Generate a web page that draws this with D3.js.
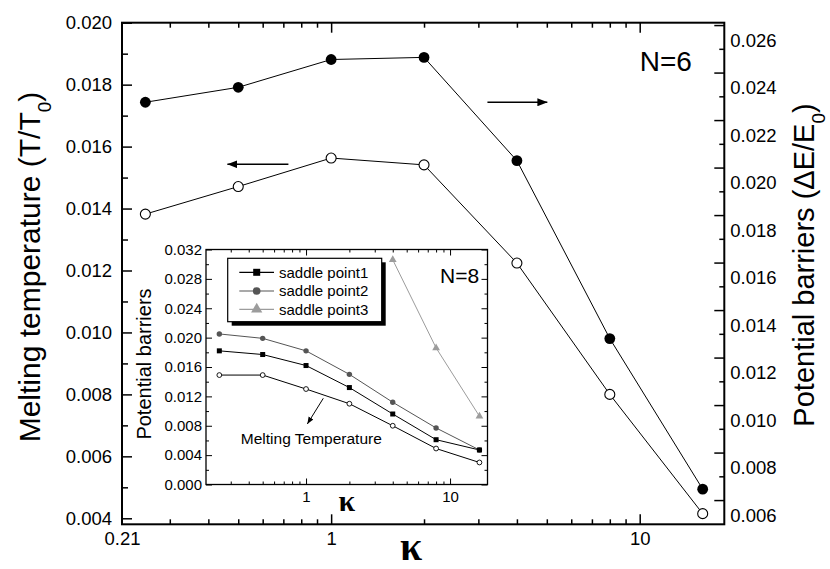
<!DOCTYPE html>
<html><head><meta charset="utf-8">
<script src="https://cdn.jsdelivr.net/npm/d3@7"></script>
<style>
body{margin:0;background:#fff}
text{font-family:"Liberation Sans",Arial,sans-serif;fill:#000}
</style>
</head><body><svg id="c" width="830" height="569"></svg>
<script>
// ---- main chart data (N=6) ----
const kappa = [0.25, 0.5, 1, 2, 4, 8, 16];
const meltingT = [0.01382, 0.01471, 0.01563, 0.01541, 0.01224, 0.0080, 0.00415];      // left axis, open circles
const barriers = [0.02275, 0.02338, 0.02455, 0.02464, 0.02029, 0.0128, 0.00646];      // right axis, filled circles
const leftTicks = [0.004, 0.006, 0.008, 0.010, 0.012, 0.014, 0.016, 0.018, 0.020];
const rightTicks = [0.006, 0.008, 0.010, 0.012, 0.014, 0.016, 0.018, 0.020, 0.022, 0.024, 0.026];
const xTickLabels = [0.21, 1, 10];

// ---- inset data (N=8) ----
const insetKappa = [0.25, 0.5, 1, 2, 4, 8, 16];
const insetMelting = [0.0149, 0.0149, 0.0130, 0.0110, 0.0080, 0.0049, 0.0030];
const saddle1 = [0.0182, 0.0177, 0.0162, 0.0132, 0.0096, 0.0061, 0.0047];
const saddle2 = [0.0205, 0.0199, 0.0182, 0.0150, 0.0112, 0.0077, 0.0047];
const saddle3Kappa = [4, 8, 16];
const saddle3 = [0.0306, 0.0186, 0.0093];
const insetYTicks = [0, 0.004, 0.008, 0.012, 0.016, 0.020, 0.024, 0.028, 0.032];
const insetXTicks = [1, 10];
const legendNames = ["saddle point1", "saddle point2", "saddle point3"];

const svg = d3.select("#c");
const defs = svg.append("defs");
defs.append("marker").attr("id","ah").attr("viewBox","0 0 10 8").attr("refX",10).attr("refY",4)
  .attr("markerWidth",10).attr("markerHeight",8).attr("markerUnits","userSpaceOnUse").attr("orient","auto")
  .append("path").attr("d","M0,0 L10,4 L0,8 Z").attr("fill","#000");
defs.append("marker").attr("id","ahs").attr("viewBox","0 0 10 8").attr("refX",10).attr("refY",4)
  .attr("markerWidth",7).attr("markerHeight",6).attr("markerUnits","userSpaceOnUse").attr("orient","auto")
  .append("path").attr("d","M0,0 L10,4 L0,8 Z").attr("fill","#000");

const F = {l:122, r:724.3, t:22.7, b:524.3};
const x = d3.scaleLog().domain([0.21, 18.8]).range([F.l, F.r]);
const yL = d3.scaleLinear().domain([0.003806, 0.020]).range([F.b, F.t]);
const yR = d3.scaleLinear().domain([0.00498, 0.02610]).range([F.b, F.t]);

function clean(g){ g.select(".domain").remove(); g.selectAll(".tick line").attr("stroke","#000").attr("stroke-width",1.5); return g; }

const xMajor = [1, 10];
const xMinor = x.ticks().filter(v => !xMajor.includes(v));
const leftMinor = d3.range(0.005, 0.0200, 0.002);
const rightMinor = d3.range(0.007, 0.0260, 0.002);

// bottom & top ticks
[[d3.axisBottom, F.b],[d3.axisTop, F.t]].forEach(([ax, y0])=>{
  svg.append("g").attr("transform",`translate(0,${y0})`).call(ax(x).tickValues(xMinor).tickSize(-5).tickFormat("")).call(clean);
  svg.append("g").attr("transform",`translate(0,${y0})`).call(ax(x).tickValues(xMajor).tickSize(-10).tickFormat("")).call(clean);
});
// left ticks
svg.append("g").attr("transform",`translate(${F.l},0)`).call(d3.axisLeft(yL).tickValues(leftMinor).tickSize(-6).tickFormat("")).call(clean);
svg.append("g").attr("transform",`translate(${F.l},0)`).call(d3.axisLeft(yL).tickValues(leftTicks).tickSize(-10).tickFormat("")).call(clean);
// right ticks
svg.append("g").attr("transform",`translate(${F.r},0)`).call(d3.axisRight(yR).tickValues(rightMinor).tickSize(-5).tickFormat("")).call(clean);
svg.append("g").attr("transform",`translate(${F.r},0)`).call(d3.axisRight(yR).tickValues(rightTicks).tickSize(-10).tickFormat("")).call(clean);

// labels
const lab = svg.append("g");
lab.append("g").attr("transform",`translate(0,${F.b})`)
  .call(d3.axisBottom(x).tickValues(xTickLabels).tickSize(0).tickPadding(8).tickFormat(d => d===0.21 ? "0.21" : d3.format("d")(d)))
  .call(g=>g.select(".domain").remove()).selectAll("text").attr("font-size","18.5px").attr("font-family","Liberation Sans, Arial");
lab.append("g").attr("transform",`translate(${F.l},0)`)
  .call(d3.axisLeft(yL).tickValues(leftTicks).tickSize(0).tickPadding(10).tickFormat(d3.format(".3f")))
  .call(g=>g.select(".domain").remove()).selectAll("text").attr("font-size","18.5px").attr("font-family","Liberation Sans, Arial");
lab.append("g").attr("transform",`translate(${F.r},0)`)
  .call(d3.axisRight(yR).tickValues(rightTicks).tickSize(0).tickPadding(6).tickFormat(d3.format(".3f")))
  .call(g=>g.select(".domain").remove()).selectAll("text").attr("font-size","18.5px").attr("font-family","Liberation Sans, Arial")
  .attr("transform","translate(0,15.5)");

// frame
svg.append("rect").attr("x",F.l).attr("y",F.t).attr("width",F.r-F.l).attr("height",F.b-F.t)
  .attr("fill","none").attr("stroke","#000").attr("stroke-width",2);

// titles
svg.append("text").attr("transform",`translate(40,267) rotate(-90)`).attr("text-anchor","middle")
  .attr("font-size","30px").html('Melting temperature (T/T<tspan baseline-shift="sub" font-size="19px">0</tspan>)');
svg.append("text").attr("transform",`translate(814,265) rotate(-90)`).attr("text-anchor","middle")
  .attr("font-size","29px").html('Potential barriers (\u0394E/E<tspan baseline-shift="sub" font-size="19px">0</tspan>)');
svg.append("text").attr("x",x(1.815)).attr("y",560).attr("text-anchor","middle")
  .attr("font-size","40px").attr("font-weight","bold").style("font-family","'Liberation Serif','Times New Roman',serif").text("\u03ba");

// main series
const lineL = d3.line().x((d,i)=>x(kappa[i])).y(d=>yL(d));
const lineR = d3.line().x((d,i)=>x(kappa[i])).y(d=>yR(d));
svg.append("path").attr("d",lineL(meltingT)).attr("fill","none").attr("stroke","#000").attr("stroke-width",1);
svg.append("path").attr("d",lineR(barriers)).attr("fill","none").attr("stroke","#000").attr("stroke-width",1);
svg.append("g").selectAll("circle").data(barriers).join("circle")
  .attr("cx",(d,i)=>x(kappa[i])).attr("cy",d=>yR(d)).attr("r",5.4).attr("fill","#000");
svg.append("g").selectAll("circle").data(meltingT).join("circle")
  .attr("cx",(d,i)=>x(kappa[i])).attr("cy",d=>yL(d)).attr("r",5).attr("fill","#fff").attr("stroke","#000").attr("stroke-width",1.1);

// main annotations
svg.append("line").attr("x1",x(0.727)).attr("x2",x(0.461)).attr("y1",yL(0.01543)).attr("y2",yL(0.01543))
  .attr("stroke","#000").attr("stroke-width",1.5).attr("marker-end","url(#ah)");
svg.append("line").attr("x1",x(3.21)).attr("x2",x(5.02)).attr("y1",yR(0.02275)).attr("y2",yR(0.02275))
  .attr("stroke","#000").attr("stroke-width",1.5).attr("marker-end","url(#ah)");
svg.append("text").attr("x",x(12.15)).attr("y",yL(0.01876)+10).attr("text-anchor","middle").attr("font-size","28px").text("N=6");

// ---- inset ----
const I = {l:206, r:487.5, t:249.5, b:484.5};
const ix = d3.scaleLog().domain([0.202, 18.2]).range([I.l, I.r]);
const iy = d3.scaleLinear().domain([0, 0.032]).range([I.b, I.t]);
const ins = svg.append("g");
ins.append("rect").attr("x",I.l).attr("y",I.t).attr("width",I.r-I.l).attr("height",I.b-I.t).attr("fill","#fff");
function cleanI(g){ g.select(".domain").remove(); g.selectAll(".tick line").attr("stroke","#000").attr("stroke-width",1); return g; }
const ixMinor = ix.ticks().filter(v => !insetXTicks.includes(v));
const iyMinor = d3.range(0.002, 0.032, 0.004);
[[d3.axisBottom, I.b],[d3.axisTop, I.t]].forEach(([ax,y0])=>{
  ins.append("g").attr("transform",`translate(0,${y0})`).call(ax(ix).tickValues(ixMinor).tickSize(-3).tickFormat("")).call(cleanI);
  ins.append("g").attr("transform",`translate(0,${y0})`).call(ax(ix).tickValues(insetXTicks).tickSize(-6).tickFormat("")).call(cleanI);
});
[[d3.axisLeft, I.l],[d3.axisRight, I.r]].forEach(([ax,x0])=>{
  ins.append("g").attr("transform",`translate(${x0},0)`).call(ax(iy).tickValues(iyMinor).tickSize(-3).tickFormat("")).call(cleanI);
  ins.append("g").attr("transform",`translate(${x0},0)`).call(ax(iy).tickValues(insetYTicks).tickSize(-6).tickFormat("")).call(cleanI);
});
ins.append("g").attr("transform",`translate(${I.l},0)`)
  .call(d3.axisLeft(iy).tickValues(insetYTicks).tickSize(0).tickPadding(4).tickFormat(d3.format(".3f")))
  .call(g=>g.select(".domain").remove()).selectAll("text").attr("font-size","15px").attr("font-family","Liberation Sans, Arial");
ins.append("g").attr("transform",`translate(0,${I.b})`)
  .call(d3.axisBottom(ix).tickValues(insetXTicks).tickSize(0).tickPadding(7).tickFormat(d3.format("d")))
  .call(g=>g.select(".domain").remove()).selectAll("text").attr("font-size","15px").attr("font-family","Liberation Sans, Arial");
ins.append("rect").attr("x",I.l).attr("y",I.t).attr("width",I.r-I.l).attr("height",I.b-I.t)
  .attr("fill","none").attr("stroke","#000").attr("stroke-width",1.3);
ins.append("text").attr("transform",`translate(151,${(I.t+I.b)/2-3}) rotate(-90)`).attr("text-anchor","middle")
  .attr("font-size","20px").text("Potential barriers");
ins.append("text").attr("x",ix(1.92)).attr("y",511).attr("text-anchor","middle")
  .attr("font-size","30px").attr("font-weight","bold").style("font-family","'Liberation Serif','Times New Roman',serif").text("\u03ba");

const il = (xs) => d3.line().x((d,i)=>ix(xs[i])).y(d=>iy(d));
const col1 = "#000", col2 = "#555", col3 = "#9c9c9c";
ins.append("path").attr("d",il(saddle3Kappa)(saddle3)).attr("fill","none").attr("stroke",col3).attr("stroke-width",1);
ins.append("path").attr("d",il(insetKappa)(saddle2)).attr("fill","none").attr("stroke",col2).attr("stroke-width",1);
ins.append("path").attr("d",il(insetKappa)(saddle1)).attr("fill","none").attr("stroke",col1).attr("stroke-width",1);
ins.append("path").attr("d",il(insetKappa)(insetMelting)).attr("fill","none").attr("stroke","#000").attr("stroke-width",1);
const tri = d3.symbol().type(d3.symbolTriangle);
ins.append("g").selectAll("path").data(saddle3).join("path")
  .attr("transform",(d,i)=>`translate(${ix(saddle3Kappa[i])},${iy(d)})`).attr("d",tri.size(26)()).attr("fill",col3);
ins.append("g").selectAll("circle").data(saddle2).join("circle")
  .attr("cx",(d,i)=>ix(insetKappa[i])).attr("cy",d=>iy(d)).attr("r",2.7).attr("fill",col2);
ins.append("g").selectAll("rect").data(saddle1).join("rect")
  .attr("x",(d,i)=>ix(insetKappa[i])-2.5).attr("y",d=>iy(d)-2.5).attr("width",5).attr("height",5).attr("fill",col1);
ins.append("g").selectAll("circle").data(insetMelting).join("circle")
  .attr("cx",(d,i)=>ix(insetKappa[i])).attr("cy",d=>iy(d)).attr("r",2.4).attr("fill","#fff").attr("stroke","#000").attr("stroke-width",0.9);

// inset annotation
ins.append("line").attr("x1",ix(1.318)).attr("y1",iy(0.01174)).attr("x2",ix(1.021)).attr("y2",iy(0.00824))
  .attr("stroke","#000").attr("stroke-width",1).attr("marker-end","url(#ahs)");
ins.append("text").attr("x",ix(1.088)).attr("y",iy(0.00551)).attr("text-anchor","middle").attr("font-size","15.5px").text("Melting Temperature");
ins.append("text").attr("x",440).attr("y",283.3).attr("font-size","21px").text("N=8");

// legend
const L = {x:227.7, y:258.3, w:154, h:63.4};
ins.append("rect").attr("x",L.x+4).attr("y",L.y+4).attr("width",L.w).attr("height",L.h).attr("fill","#000");
ins.append("rect").attr("x",L.x).attr("y",L.y).attr("width",L.w).attr("height",L.h).attr("fill","#fff").attr("stroke","#000").attr("stroke-width",1.2);
const rowsY = [272.3, 291, 309.3];
const cols = [col1, col2, col3];
legendNames.forEach((name,i)=>{
  const g = ins.append("g");
  g.append("line").attr("x1",239.3).attr("x2",274).attr("y1",rowsY[i]).attr("y2",rowsY[i]).attr("stroke",cols[i]).attr("stroke-width",1.2);
  if(i===0) g.append("rect").attr("x",256.7-3.5).attr("y",rowsY[i]-3.5).attr("width",7).attr("height",7).attr("fill",cols[i]);
  if(i===1) g.append("circle").attr("cx",256.7).attr("cy",rowsY[i]).attr("r",3.8).attr("fill",cols[i]);
  if(i===2) g.append("path").attr("transform",`translate(256.7,${rowsY[i]})`).attr("d",tri.size(55)()).attr("fill",cols[i]);
  g.append("text").attr("x",279).attr("y",rowsY[i]+5.4).attr("font-size","15px").text(name);
});
</script>
</body></html>
